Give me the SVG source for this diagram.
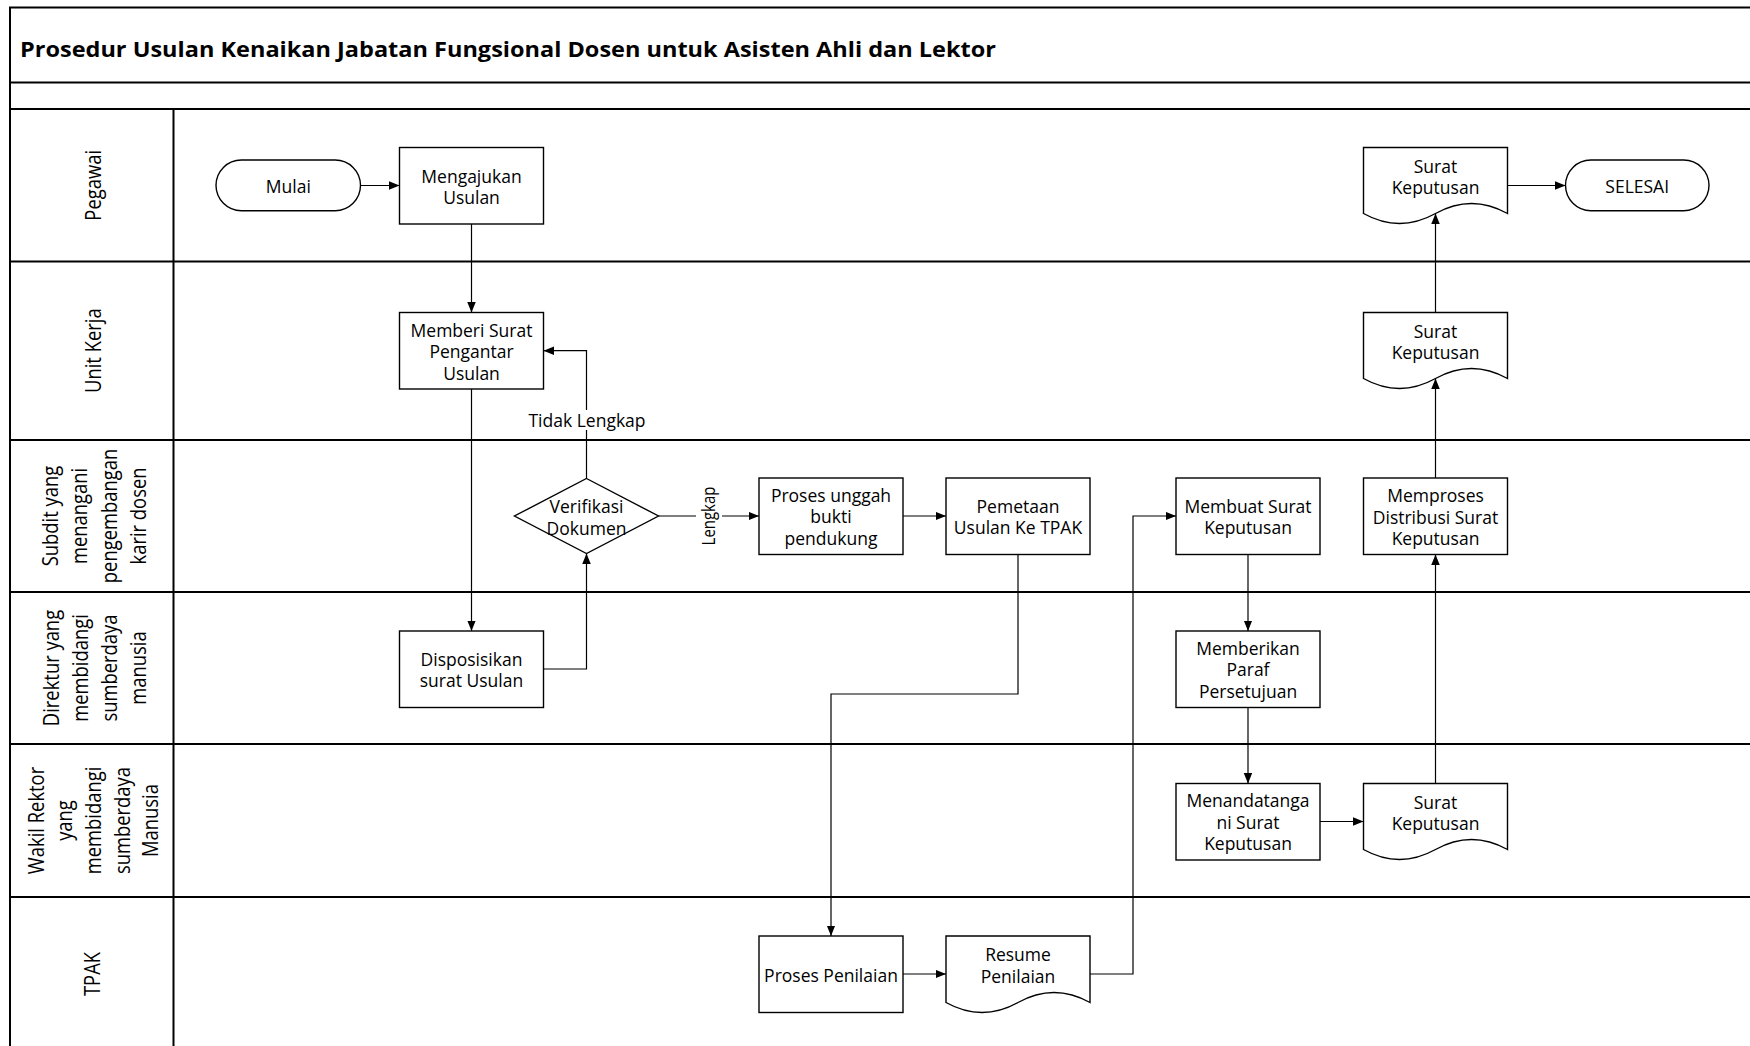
<svg xmlns="http://www.w3.org/2000/svg" width="1750" height="1046" viewBox="0 0 1750 1046">
<style>
.frame{stroke:#000;stroke-width:2;fill:none}
.box{fill:#fff;stroke:#000;stroke-width:1.4}
.t{font-family:"Open Sans","Liberation Sans",sans-serif;font-size:17.5px;text-anchor:middle;dominant-baseline:central;fill:#000}
.lbl{font-family:"Open Sans","Liberation Sans",sans-serif;font-size:21.5px;text-anchor:middle;dominant-baseline:central;fill:#000}
.title{font-family:"Open Sans","Liberation Sans",sans-serif;font-size:21.5px;font-weight:bold;fill:#000}
.conn{fill:none;stroke:#000;stroke-width:1.2;marker-end:url(#arr)}
</style>
<defs>
<marker id="arr" markerUnits="userSpaceOnUse" markerWidth="11" markerHeight="9" refX="10.5" refY="4.25" orient="auto">
<path d="M0,0 L10.5,4.25 L0,8.5 Z" fill="#000"/>
</marker>
</defs>
<rect x="0" y="0" width="1750" height="1046" fill="#fff"/>
<g id="frame">
<path class="frame" d="M10,1046 V7.5 H1750 M10,82.5 H1750 M10,109 H1750 M10,261.5 H1750 M10,440 H1750 M10,592 H1750 M10,744 H1750 M10,897 H1750 M173.5,109 V1046"/>
<text class="title" x="20" y="56.5" textLength="976" lengthAdjust="spacingAndGlyphs">Prosedur Usulan Kenaikan Jabatan Fungsional Dosen untuk Asisten Ahli dan Lektor</text>
</g>
<g id="lanes">
<text class="lbl" transform="translate(92,185.3) rotate(-90) scale(0.855,1)"><tspan x="0" y="0">Pegawai</tspan></text>
<text class="lbl" transform="translate(92,350.7) rotate(-90) scale(0.855,1)"><tspan x="0" y="0">Unit Kerja</tspan></text>
<text class="lbl" transform="translate(93.5,516) rotate(-90) scale(0.855,1)"><tspan x="0" y="-44">Subdit yang</tspan><tspan x="0" y="-14.7">menangani</tspan><tspan x="0" y="14.7">pengembangan</tspan><tspan x="0" y="44">karir dosen</tspan></text>
<text class="lbl" transform="translate(94,668) rotate(-90) scale(0.855,1)"><tspan x="0" y="-43.5">Direktur yang</tspan><tspan x="0" y="-14.5">membidangi</tspan><tspan x="0" y="14.5">sumberdaya</tspan><tspan x="0" y="43.5">manusia</tspan></text>
<text class="lbl" transform="translate(92.5,820.5) rotate(-90) scale(0.855,1)"><tspan x="0" y="-57.4">Wakil Rektor</tspan><tspan x="0" y="-28.7">yang</tspan><tspan x="0" y="0">membidangi</tspan><tspan x="0" y="28.7">sumberdaya</tspan><tspan x="0" y="57.4">Manusia</tspan></text>
<text class="lbl" transform="translate(91,974) rotate(-90) scale(0.855,1)"><tspan x="0" y="0">TPAK</tspan></text>
</g>
<g id="connectors">
<path class="conn" d="M360.5,185.5 H399.5"/>
<path class="conn" d="M471.5,224 V312.5"/>
<path class="conn" d="M471.5,389 V631"/>
<path class="conn" d="M543.5,669 H586.5 V553.5"/>
<path class="conn" d="M586.5,478.5 V350.7 H543.5"/>
<path class="conn" d="M658.5,516 H759"/>
<path class="conn" d="M903,516 H946"/>
<path class="conn" d="M1018,554.5 V694 H831 V936"/>
<path class="conn" d="M903,974 H946"/>
<path class="conn" d="M1090,974 H1133 V516 H1176"/>
<path class="conn" d="M1248,554.5 V631"/>
<path class="conn" d="M1248,707 V783.5"/>
<path class="conn" d="M1320,821.5 H1363.5"/>
<path class="conn" d="M1435.5,783.5 V554.5"/>
<path class="conn" d="M1435.5,478 V378.5"/>
<path class="conn" d="M1435.5,312.5 V213.5"/>
<path class="conn" d="M1507.5,185.5 H1565.5"/>
<rect x="528" y="410" width="118" height="20" fill="#fff"/>
<text class="t" x="587" y="419.5">Tidak Lengkap</text>
<rect x="696" y="485" width="26" height="62" fill="#fff"/>
<text class="t" transform="translate(709,516) rotate(-90) scale(0.855,1)" x="0" y="0">Lengkap</text>
</g>
<g id="mulai">
<rect class="box" x="216" y="160" width="144.5" height="50.7" rx="25.35"/>
<text class="t" x="288.3" y="185.5">Mulai</text>
</g>
<g id="mengajukan">
<rect class="box" x="399.5" y="147.5" width="144" height="76.5"/>
<text class="t"><tspan x="471.5" y="175.7">Mengajukan</tspan><tspan x="471.5" y="196.9">Usulan</tspan></text>
</g>
<g id="memberi">
<rect class="box" x="399.5" y="312.5" width="144" height="76.5"/>
<text class="t"><tspan x="471.5" y="329.5">Memberi Surat</tspan><tspan x="471.5" y="351">Pengantar</tspan><tspan x="471.5" y="372.5">Usulan</tspan></text>
</g>
<g id="disposisikan">
<rect class="box" x="399.5" y="631" width="144" height="76.5"/>
<text class="t"><tspan x="471.5" y="658.7">Disposisikan</tspan><tspan x="471.5" y="679.8">surat Usulan</tspan></text>
</g>
<g id="verifikasi">
<polygon class="box" points="586.5,478.5 658.5,516 586.5,553.5 514.5,516"/>
<text class="t"><tspan x="586.5" y="506">Verifikasi</tspan><tspan x="586.5" y="527.7">Dokumen</tspan></text>
</g>
<g id="proses-unggah">
<rect class="box" x="759" y="478" width="144" height="76.5"/>
<text class="t"><tspan x="831" y="494.5">Proses unggah</tspan><tspan x="831" y="516">bukti</tspan><tspan x="831" y="538">pendukung</tspan></text>
</g>
<g id="pemetaan">
<rect class="box" x="946" y="478" width="144" height="76.5"/>
<text class="t"><tspan x="1018" y="505.7">Pemetaan</tspan><tspan x="1018" y="527.3">Usulan Ke TPAK</tspan></text>
</g>
<g id="membuat">
<rect class="box" x="1176" y="478" width="144" height="76.5"/>
<text class="t"><tspan x="1248" y="505.7">Membuat Surat</tspan><tspan x="1248" y="527.3">Keputusan</tspan></text>
</g>
<g id="memproses">
<rect class="box" x="1363.5" y="478" width="144" height="76.5"/>
<text class="t"><tspan x="1435.5" y="495">Memproses</tspan><tspan x="1435.5" y="516.7">Distribusi Surat</tspan><tspan x="1435.5" y="538.3">Keputusan</tspan></text>
</g>
<g id="memberikan">
<rect class="box" x="1176" y="631" width="144" height="76.5"/>
<text class="t"><tspan x="1248" y="647.7">Memberikan</tspan><tspan x="1248" y="669.3">Paraf</tspan><tspan x="1248" y="691">Persetujuan</tspan></text>
</g>
<g id="menandatangani">
<rect class="box" x="1176" y="783.5" width="144" height="76.5"/>
<text class="t"><tspan x="1248" y="799.5">Menandatanga</tspan><tspan x="1248" y="821.5">ni Surat</tspan><tspan x="1248" y="843.3">Keputusan</tspan></text>
</g>
<g id="sk-wakil">
<path class="box" d="M1363.5,783.5 H1507.5 V849.5 Q1471.5,829.5 1435.5,849.5 Q1399.5,869.5 1363.5,849.5 Z"/>
<text class="t"><tspan x="1435.5" y="801.7">Surat</tspan><tspan x="1435.5" y="822.9">Keputusan</tspan></text>
</g>
<g id="sk-unit">
<path class="box" d="M1363.5,312.5 H1507.5 V378.5 Q1471.5,358.5 1435.5,378.5 Q1399.5,398.5 1363.5,378.5 Z"/>
<text class="t"><tspan x="1435.5" y="330.7">Surat</tspan><tspan x="1435.5" y="352.2">Keputusan</tspan></text>
</g>
<g id="sk-pegawai">
<path class="box" d="M1363.5,147.5 H1507.5 V213.5 Q1471.5,193.5 1435.5,213.5 Q1399.5,233.5 1363.5,213.5 Z"/>
<text class="t"><tspan x="1435.5" y="165.7">Surat</tspan><tspan x="1435.5" y="187.2">Keputusan</tspan></text>
</g>
<g id="selesai">
<rect class="box" x="1565.5" y="160" width="143.5" height="50.7" rx="25.35"/>
<text class="t" x="1637.2" y="185.5">SELESAI</text>
</g>
<g id="proses-penilaian">
<rect class="box" x="759" y="936" width="144" height="76.5"/>
<text class="t" x="831" y="974.5">Proses Penilaian</text>
</g>
<g id="resume">
<path class="box" d="M946,936 H1090 V1002.5 Q1054,982.5 1018,1002.5 Q982,1022.5 946,1002.5 Z"/>
<text class="t"><tspan x="1018" y="953.5">Resume</tspan><tspan x="1018" y="975.5">Penilaian</tspan></text>
</g>
</svg>
